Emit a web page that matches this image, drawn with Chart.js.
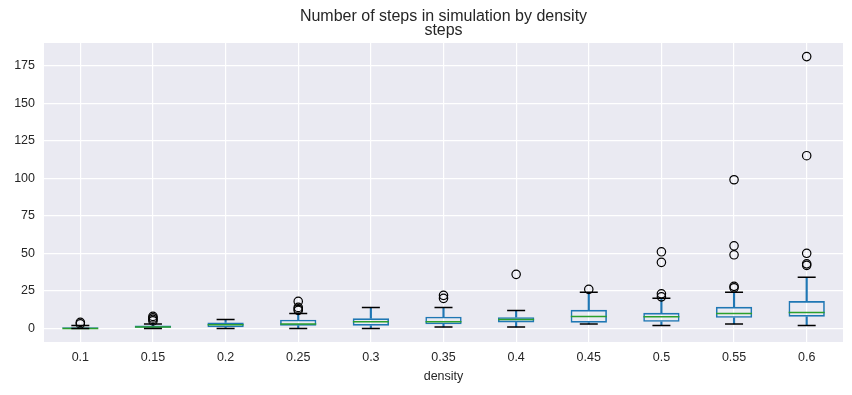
<!DOCTYPE html>
<html>
<head>
<meta charset="utf-8">
<script src="https://cdn.jsdelivr.net/npm/chart.js@4.4.1/dist/chart.umd.min.js"></script>
<style>
  html, body { margin: 0; padding: 0; background: #fff; overflow: hidden; }
  canvas { display: block; }
</style>
</head>
<body>
<canvas id="chart" width="852" height="395"></canvas>
<script>
// box plot stats, one entry per density
const densities = ["0.1", "0.15", "0.2", "0.25", "0.3", "0.35", "0.4", "0.45", "0.5", "0.55", "0.6"];
const whiskerLow = [0, 0, 0, 0, 0, 1, 1, 3, 2, 3, 2];
const q1 = [0, 0.5, 0.7, 1.8, 1.8, 2.7, 4, 3.8, 4.4, 7.1, 7.8];
const medians = [0, 1, 2.4, 3, 4.4, 4.4, 6, 8, 7.8, 10, 10.6];
const q3 = [1, 2, 4, 5.8, 6.7, 7.8, 7.5, 12.4, 10.4, 14.4, 18.2];
const whiskerHigh = [2, 3, 6, 10, 14, 14, 12, 24, 20, 24, 34];
const outliers = [
    [3, 4],
    [5, 6, 7, 8],
    [],
    [12, 13, 14, 18],
    [],
    [20, 22],
    [36],
    [26],
    [21, 23, 44, 51],
    [27, 28, 49, 55, 99],
    [42, 43, 50, 115, 181]
];
const yTicks = [0, 25, 50, 75, 100, 125, 150, 175];

const BLUE = "#1f77b4";
const GREEN = "#2ca02c";
const TEXT = "#262626";
const FONT = "'Liberation Sans', Arial, sans-serif";

// flatten outliers into points
const outlierPoints = [];
outliers.forEach((vals, i) => {
    vals.forEach(v => outlierPoints.push({ x: densities[i], y: v }));
});

// grey plot background like seaborn darkgrid
const plotBg = {
    id: "plotBg",
    beforeDraw(chart) {
        const { ctx, chartArea } = chart;
        ctx.save();
        ctx.fillStyle = "#eaeaf2";
        ctx.fillRect(chartArea.left, chartArea.top, chartArea.right - chartArea.left, chartArea.bottom - chartArea.top);
        ctx.restore();
    }
};

new Chart(document.getElementById("chart"), {
    type: "bar",
    data: {
        labels: densities,
        datasets: [
            {
                // lower whisker
                type: "bar",
                data: densities.map((d, i) => [whiskerLow[i], q1[i]]),
                backgroundColor: BLUE,
                barThickness: 1.5,
                grouped: false,
                order: 5
            },
            {
                // upper whisker
                type: "bar",
                data: densities.map((d, i) => [q3[i], whiskerHigh[i]]),
                backgroundColor: BLUE,
                barThickness: 1.5,
                grouped: false,
                order: 5
            },
            {
                // box
                type: "bar",
                data: densities.map((d, i) => [q1[i], q3[i]]),
                backgroundColor: "rgba(0,0,0,0)",
                borderColor: BLUE,
                borderWidth: 1.6,
                borderSkipped: false,
                barPercentage: 0.5,
                categoryPercentage: 1,
                grouped: false,
                order: 4
            },
            {
                // medians
                type: "line",
                data: medians,
                showLine: false,
                pointStyle: "line",
                pointRadius: 18,
                pointBorderColor: GREEN,
                pointBorderWidth: 1.5,
                order: 3
            },
            {
                // caps
                type: "line",
                data: whiskerLow,
                showLine: false,
                pointStyle: "line",
                pointRadius: 9,
                pointBorderColor: "#000",
                pointBorderWidth: 1.5,
                order: 2
            },
            {
                type: "line",
                data: whiskerHigh,
                showLine: false,
                pointStyle: "line",
                pointRadius: 9,
                pointBorderColor: "#000",
                pointBorderWidth: 1.5,
                order: 2
            },
            {
                // fliers
                type: "line",
                data: outlierPoints,
                showLine: false,
                pointStyle: "circle",
                pointRadius: 4.2,
                pointBackgroundColor: "rgba(0,0,0,0)",
                pointBorderColor: "#000",
                pointBorderWidth: 1.2,
                order: 1
            }
        ]
    },
    options: {
        responsive: false,
        animation: false,
        layout: { autoPadding: false, padding: { left: 0, right: 9, top: 0, bottom: 0 } },
        plugins: {
            legend: { display: false },
            tooltip: { enabled: false },
            title: {
                display: true,
                text: "Number of steps in simulation by density",
                color: TEXT,
                fullSize: false,
                font: { family: FONT, size: 16, weight: "normal", lineHeight: 0.75 },
                padding: { top: 11, bottom: 0 }
            },
            subtitle: {
                display: true,
                text: "steps",
                color: TEXT,
                fullSize: false,
                font: { family: FONT, size: 16, weight: "normal", lineHeight: 0.75 },
                padding: { top: 1.5, bottom: 6.5 }
            }
        },
        scales: {
            x: {
                offset: true,
                grid: { color: "#ffffff", lineWidth: 1.2, offset: false, drawTicks: false },
                border: { display: false },
                ticks: { color: TEXT, font: { family: FONT, size: 12.5 }, padding: 8, maxRotation: 0 },
                title: {
                    display: true,
                    text: "density",
                    color: TEXT,
                    font: { family: FONT, size: 12.5 },
                    padding: { top: 0, bottom: 10.5 }
                },
                afterFit(scale) { scale.height = 53; }
            },
            y: {
                min: -9.05,
                max: 190.05,
                grid: { color: "#ffffff", lineWidth: 1.2, drawTicks: false },
                border: { display: false },
                ticks: { color: TEXT, font: { family: FONT, size: 12.5 }, padding: 9 },
                afterBuildTicks(scale) { scale.ticks = yTicks.map(v => ({ value: v })); },
                afterFit(scale) { scale.width = 44; }
            }
        }
    },
    plugins: [plotBg]
});
</script>
</body>
</html>
